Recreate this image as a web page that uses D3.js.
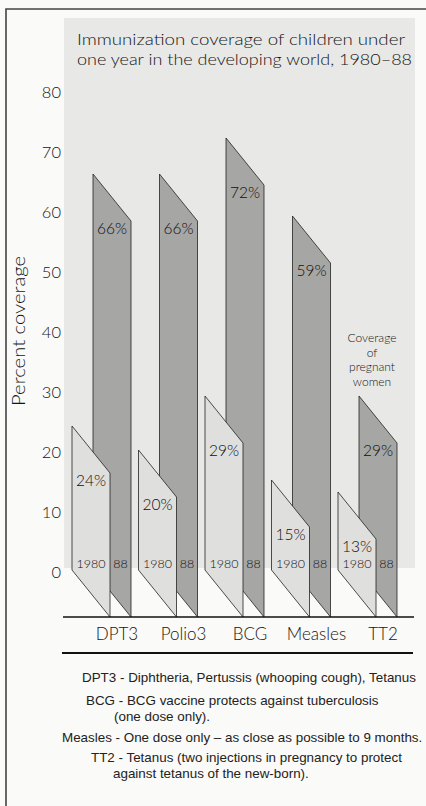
<!DOCTYPE html>
<html>
<head>
<meta charset="utf-8">
<script src="https://cdn.jsdelivr.net/npm/d3@7/dist/d3.min.js"></script>
<style>
  html, body { margin: 0; padding: 0; background: #fafaf8; }
  svg { display: block; }
</style>
</head>
<body>
<svg id="chart" width="426" height="806"></svg>
<script>
// Immunization coverage, 1980 vs 1988, by vaccine
const categories = ["DPT3", "Polio3", "BCG", "Measles", "TT2"];
const coverage1980 = [24, 20, 29, 15, 13];
const coverage1988 = [66, 66, 72, 59, 29];
const yTicks = [0, 10, 20, 30, 40, 50, 60, 70, 80];
const titleLines = [
  "Immunization coverage of children under",
  "one year in the developing world, 1980\u201388"
];
const noteLines = ["Coverage", "of", "pregnant", "women"];
const footnotes = [
  "DPT3 - Diphtheria, Pertussis (whooping cough), Tetanus",
  "BCG - BCG vaccine protects against tuberculosis",
  "(one dose only).",
  "Measles - One dose only \u2013 as close as possible to 9 months.",
  "TT2 - Tetanus (two injections in pregnancy to protect",
  "against tetanus of the new-born)."
];

const svg = d3.select("#chart");
const headFont = "Lato, 'DejaVu Sans', sans-serif";
const headWeight = 300;
const bodyFont = "'Liberation Sans', Arial, sans-serif";
const ink = "#151515";

// page frame (left and top rules)
svg.append("path")
  .attr("d", "M6,806 L6,9 L426,9")
  .attr("fill", "none").attr("stroke", "#444").attr("stroke-width", 1.6);

// shaded plot panel
svg.append("rect")
  .attr("x", 64).attr("y", 18).attr("width", 351).attr("height", 550)
  .attr("fill", "#e8e8e6");

// scales
const y = d3.scaleLinear().domain([0, 80]).range([570, 90]);
const x = d3.scaleBand().domain(categories).range([72, 404.5]);
const barW = 38;          // width of each slab
const darkOffset = 21;    // 1988 slab sits behind and to the right
const drop = 47;          // vertical fall of the slanted top and bottom edges

function slab(left, v) {
  const p = d3.path();
  p.moveTo(left, y(v));
  p.lineTo(left + barW, y(v) + drop);
  p.lineTo(left + barW, y(0) + drop);
  p.lineTo(left, y(0));
  p.closePath();
  return p.toString();
}

// title
svg.append("g").selectAll("text").data(titleLines).join("text")
  .attr("x", 77).attr("y", (d, i) => 45 + i * 20)
  .attr("font-family", headFont).attr("font-weight", headWeight)
  .attr("font-size", 16.5)
  .attr("fill", ink)
  .attr("textLength", (d, i) => i === 0 ? 328 : 335)
  .attr("lengthAdjust", "spacingAndGlyphs")
  .text(d => d);

// y axis labels
const yAxis = d3.axisLeft(y).tickValues(yTicks).tickSize(0).tickPadding(0);
const gy = svg.append("g").attr("transform", "translate(61,2)").call(yAxis);
gy.select(".domain").remove();
gy.selectAll("text")
  .attr("font-family", headFont).attr("font-weight", headWeight)
  .attr("font-size", 16.5).attr("fill", ink);

svg.append("text")
  .attr("transform", "translate(25,331) rotate(-90)")
  .attr("text-anchor", "middle")
  .attr("font-family", headFont).attr("font-weight", headWeight)
  .attr("font-size", 17).attr("fill", ink)
  .attr("textLength", 150).attr("lengthAdjust", "spacingAndGlyphs")
  .text("Percent coverage");

// 1988 slabs (back)
const bars = svg.append("g");
bars.selectAll("path.y88").data(categories).join("path")
  .attr("class", "y88")
  .attr("d", (c, i) => slab(x(c) + darkOffset, coverage1988[i]))
  .attr("fill", "#a6a6a4").attr("stroke", "#222").attr("stroke-width", 0.8);

// 1980 slabs (front)
bars.selectAll("path.y80").data(categories).join("path")
  .attr("class", "y80")
  .attr("d", (c, i) => slab(x(c), coverage1980[i]))
  .attr("fill", "#dfdfdd").attr("stroke", "#222").attr("stroke-width", 0.8);

// value labels
const lab = svg.append("g")
  .attr("font-family", headFont).attr("font-weight", headWeight)
  .attr("fill", "#0e0e0e").attr("text-anchor", "middle");
lab.selectAll("text.v88").data(categories).join("text")
  .attr("class", "v88")
  .attr("x", c => x(c) + darkOffset + barW / 2)
  .attr("y", (c, i) => y(coverage1988[i]) + drop + 13)
  .attr("font-size", 15.5)
  .text((c, i) => coverage1988[i] + "%");
lab.selectAll("text.v80").data(categories).join("text")
  .attr("class", "v80")
  .attr("x", c => x(c) + barW / 2)
  .attr("y", (c, i) => y(coverage1980[i]) + drop + 13)
  .attr("font-size", 15.5)
  .text((c, i) => coverage1980[i] + "%");

// year labels at the foot of each slab
lab.selectAll("text.yr80").data(categories).join("text")
  .attr("class", "yr80")
  .attr("x", c => x(c) + barW / 2).attr("y", y(0) - 2)
  .attr("font-size", 12.5).text("1980");
lab.selectAll("text.yr88").data(categories).join("text")
  .attr("class", "yr88")
  .attr("x", c => x(c) + barW + darkOffset / 2).attr("y", y(0) - 2)
  .attr("font-size", 12.5).text("88");

// note above TT2
svg.append("g").selectAll("text").data(noteLines).join("text")
  .attr("x", 372).attr("y", (d, i) => 342 + i * 14.5)
  .attr("text-anchor", "middle")
  .attr("font-family", headFont).attr("font-weight", headWeight)
  .attr("font-size", 12).attr("fill", ink)
  .text(d => d);

// floor line
svg.append("line")
  .attr("x1", 63).attr("x2", 414).attr("y1", y(0) + drop).attr("y2", y(0) + drop)
  .attr("stroke", "#111").attr("stroke-width", 1.6);

// category labels
svg.append("g").selectAll("text").data(categories).join("text")
  .attr("x", c => x(c) + 45).attr("y", 640)
  .attr("text-anchor", "middle")
  .attr("font-family", headFont).attr("font-weight", headWeight)
  .attr("font-size", 17).attr("fill", ink)
  .text(d => d);

// separator rule
svg.append("line")
  .attr("x1", 62).attr("x2", 413).attr("y1", 653).attr("y2", 653)
  .attr("stroke", "#111").attr("stroke-width", 2);

// footnotes
const noteX = [82, 86, 114, 62, 91, 113];
const noteY = [682, 705, 721, 742, 762, 778];
svg.append("g").selectAll("text").data(footnotes).join("text")
  .attr("x", (d, i) => noteX[i]).attr("y", (d, i) => noteY[i])
  .attr("font-family", bodyFont).attr("font-size", 13.4).attr("fill", "#222")
  .text(d => d);
</script>
</body>
</html>
